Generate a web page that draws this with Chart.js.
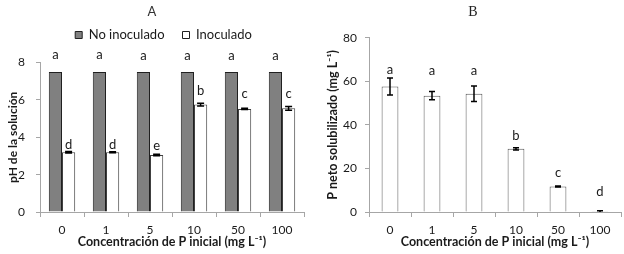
<!DOCTYPE html>
<html><head><meta charset="utf-8">
<script src="https://cdn.jsdelivr.net/npm/chart.js@4.4.0/dist/chart.umd.min.js"></script>
<style>
html,body{margin:0;padding:0;background:#fff;width:624px;height:254px;overflow:hidden}
#wa{position:absolute;left:0;top:0;width:306px;height:254px}
#wb{position:absolute;left:325px;top:0;width:299px;height:254px}
</style></head><body>
<div id="wa"><canvas id="ca"></canvas></div>
<div id="wb"><canvas id="cb"></canvas></div>
<script>
// ---- data ----
const categories = ['0', '1', '5', '10', '50', '100'];
const phNoInoculado = [7.5, 7.5, 7.5, 7.5, 7.5, 7.5];
const phInoculado = [3.2, 3.2, 3.05, 5.75, 5.52, 5.55];
const phInoculadoErr = [0.04, 0.03, 0.04, 0.07, 0.03, 0.1];
const lettersNoInoculado = ['a', 'a', 'a', 'a', 'a', 'a'];
const lettersNoInoculadoAt = [8.2, 8.2, 8.15, 8.15, 8.15, 8.15];
const lettersInoculado = ['d', 'd', 'e', 'b', 'c', 'c'];
const lettersInoculadoAt = [3.38, 3.38, 3.34, 6.25, 6.1, 6.1];
const pNeto = [57.6, 53.4, 54.3, 29.0, 11.7, 0.3];
const pNetoErr = [3.9, 1.9, 3.6, 0.5, 0.2, 0.3];
const lettersP = ['a', 'a', 'a', 'b', 'c', 'd'];
const lettersPAt = [63.4, 63.0, 63.0, 33.1, 16.2, 7.4];
const seriesNames = ['No inoculado', 'Inoculado'];
const titleA = 'A', titleB = 'B';
const xTitle = 'Concentración de P inicial (mg L\u207B\u00B9)';
const yTitleA = 'pH de la solución';
const yTitleB = 'P neto solubilizado (mg L\u207B\u00B9)';

const FONT = 'Lato';
const TXT = '#1a1a1a';
const AX = '#a6a6a6';

const errLetters = {
  id: 'errLetters',
  afterDatasetsDraw(chart) {
    const ctx = chart.ctx, ys = chart.scales.y;
    chart.data.datasets.forEach((ds, di) => {
      const meta = chart.getDatasetMeta(di);
      meta.data.forEach((bar, i) => {
        const v = ds.data[i];
        if (ds.errors) {
          const e = ds.errors[i];
          const yt = ys.getPixelForValue(v + e), yb = ys.getPixelForValue(Math.max(0, v - e));
          const cw = ds.capWidth || 3;
          ctx.save();
          ctx.strokeStyle = '#000'; ctx.lineWidth = 1.5;
          ctx.beginPath();
          ctx.moveTo(bar.x, yt); ctx.lineTo(bar.x, yb);
          ctx.moveTo(bar.x - cw, yt); ctx.lineTo(bar.x + cw, yt);
          if (v - e > 0) { ctx.moveTo(bar.x - cw, yb); ctx.lineTo(bar.x + cw, yb); }
          ctx.stroke();
          ctx.restore();
        }
        if (ds.letters) {
          ctx.save();
          ctx.fillStyle = TXT;
          ctx.font = '13px ' + FONT;
          ctx.textAlign = 'center'; ctx.textBaseline = 'alphabetic';
          ctx.fillText(ds.letters[i], bar.x, ys.getPixelForValue(ds.lettersAt[i]));
          ctx.restore();
        }
      });
    });
  }
};

const axisFit = (w) => (s) => { s.width = w; };
const axisFitH = (h) => (s) => { s.height = h; };

// ---- chart A ----
const legendPlace = {
  id: 'legendPlace',
  afterLayout(chart) {
    const lg = chart.legend;
    const pad = lg.options.labels.padding;
    const fs = lg.options.labels.font.size;
    const h = lg.bottom - lg.top;
    lg.top = 35 - pad - fs / 2;
    lg.bottom = lg.top + h;
    lg.left += 11.5; lg.right += 11.5;
  }
};

new Chart(document.getElementById('ca'), {
  type: 'bar',
  data: {
    labels: categories,
    datasets: [
      { label: seriesNames[0], data: phNoInoculado, backgroundColor: '#808080', borderColor: '#202020', borderWidth: 1,
        letters: lettersNoInoculado, lettersAt: lettersNoInoculadoAt },
      { label: seriesNames[1], data: phInoculado, backgroundColor: '#ffffff', borderColor: '#404040', borderWidth: 1,
        errors: phInoculadoErr, capWidth: 3.5, letters: lettersInoculado, lettersAt: lettersInoculadoAt }
    ]
  },
  options: {
    responsive: true, maintainAspectRatio: false, animation: false,
    layout: { padding: { left: 0, right: 2, top: 0, bottom: 0 } },
    datasets: { bar: { categoryPercentage: 0.6, barPercentage: 1.0 } },
    plugins: {
      tooltip: { enabled: false },
      title: { display: true, text: titleA, color: '#333', font: { family: FONT, size: 13, weight: 'normal' },
        padding: { top: 4, bottom: 2 } },
      legend: { display: true, position: 'top',
        labels: { boxWidth: 7, boxHeight: 7, padding: 18, color: TXT, font: { family: FONT, size: 13 },
          generateLabels(chart) {
            return chart.data.datasets.map((d, i) => ({ text: d.label, fillStyle: d.backgroundColor,
              strokeStyle: '#202020', lineWidth: 1, datasetIndex: i, fontColor: TXT }));
          } } }
    },
    scales: {
      x: {
        grid: { display: true, drawOnChartArea: false, drawTicks: true, tickLength: 5, color: AX, offset: true },
        border: { display: true, color: AX },
        ticks: { color: TXT, font: { family: FONT, size: 12 }, padding: 6, maxRotation: 0 },
        title: { display: true, text: xTitle, color: TXT, font: { family: FONT, size: 12.5, weight: 'bold' }, padding: { top: 0, bottom: 5 } },
        afterFit: axisFitH(42)
      },
      y: {
        min: 0, max: 8,
        ticks: { stepSize: 2, color: TXT, font: { family: FONT, size: 12 }, padding: 11 },
        grid: { display: true, drawOnChartArea: false, drawTicks: true, tickLength: 4, color: AX },
        border: { display: true, color: AX },
        title: { display: true, text: yTitleA, color: TXT, font: { family: FONT, size: 12, weight: 'bold' }, padding: { top: 6, bottom: 0 } },
        afterFit: axisFit(40)
      }
    }
  },
  plugins: [errLetters, legendPlace]
});

// ---- chart B ----
new Chart(document.getElementById('cb'), {
  type: 'bar',
  data: {
    labels: categories,
    datasets: [
      { label: 'P neto', data: pNeto, backgroundColor: '#ffffff', borderColor: '#595959', borderWidth: 1,
        errors: pNetoErr, capWidth: 3, letters: lettersP, lettersAt: lettersPAt }
    ]
  },
  options: {
    responsive: true, maintainAspectRatio: false, animation: false,
    layout: { padding: { left: 0, right: 3, top: 0, bottom: 0 } },
    datasets: { bar: { categoryPercentage: 1.0, barPercentage: 0.4 } },
    plugins: {
      tooltip: { enabled: false },
      legend: { display: false },
      title: { display: true, text: titleB, color: '#222', font: { family: 'Liberation Serif', size: 14, weight: 'normal' },
        padding: { top: 4, bottom: 17 } }
    },
    scales: {
      x: {
        grid: { display: true, drawOnChartArea: false, drawTicks: true, tickLength: 5, color: AX, offset: true },
        border: { display: true, color: AX },
        ticks: { color: TXT, font: { family: FONT, size: 12 }, padding: 6, maxRotation: 0 },
        title: { display: true, text: xTitle, color: TXT, font: { family: FONT, size: 12.5, weight: 'bold' }, padding: { top: 0, bottom: 5 } },
        afterFit: axisFitH(42)
      },
      y: {
        min: 0, max: 80,
        ticks: { stepSize: 20, color: TXT, font: { family: FONT, size: 12 }, padding: 8 },
        grid: { display: true, drawOnChartArea: false, drawTicks: true, tickLength: 4, color: AX },
        border: { display: true, color: AX },
        title: { display: true, text: yTitleB, color: TXT, font: { family: FONT, size: 12.5, weight: 'bold' }, padding: { top: 0, bottom: 0 } },
        afterFit: axisFit(44)
      }
    }
  },
  plugins: [errLetters]
});
</script>
</body></html>
